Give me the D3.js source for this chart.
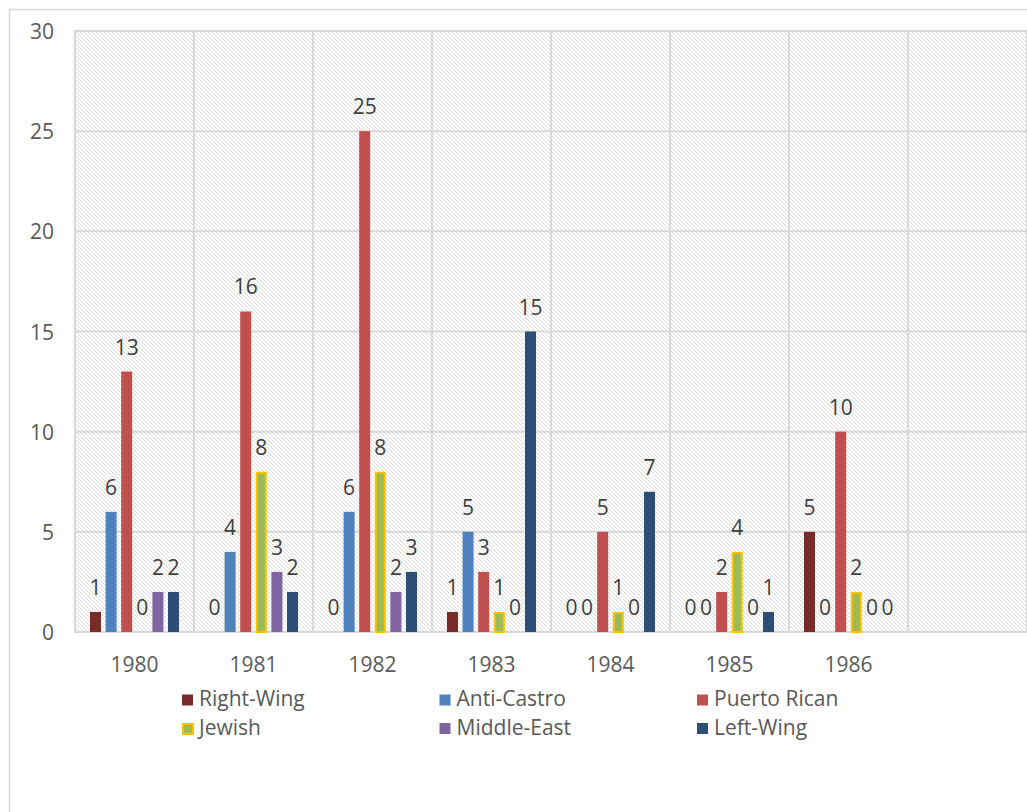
<!DOCTYPE html>
<html>
<head>
<meta charset="utf-8">
<script src="https://cdn.jsdelivr.net/npm/d3@7"></script>
<style>
  html, body { margin: 0; padding: 0; background: #fff; }
  svg { display: block; }
  text { font-family: "Open Sans", sans-serif; }
</style>
</head>
<body>
<svg id="chart" width="1027" height="812"></svg>
<script>
// ---- data ----
const years = ["1980", "1981", "1982", "1983", "1984", "1985", "1986", ""];
const seriesNames = ["Right-Wing", "Anti-Castro", "Puerto Rican", "Jewish", "Middle-East", "Left-Wing"];
const rightWing   = [1, 0, 0, 1, 0, 0, 5];
const antiCastro  = [6, 4, 6, 5, 0, 0, 0];
const puertoRican = [13, 16, 25, 3, 5, 2, 10];
const jewish      = [0, 8, 8, 1, 1, 4, 2];
const middleEast  = [2, 3, 2, 0, 0, 0, 0];
const leftWing    = [2, 2, 3, 15, 7, 1, 0];
const yTicks = [0, 5, 10, 15, 20, 25, 30];

(function () {
const seriesValues = [rightWing, antiCastro, puertoRican, jewish, middleEast, leftWing];
const fills   = ["#772C2A", "#4F81BD", "#C0504D", "#9BBB59", "#8064A2", "#2C4D75"];
const strokes = [null, null, null, "#FFC000", null, null];

const svg = d3.select("#chart");

// pattern
const defs = svg.append("defs");
const pat = defs.append("pattern").attr("id", "hatch")
  .attr("patternUnits", "userSpaceOnUse").attr("width", 4).attr("height", 4);
pat.append("rect").attr("width", 4).attr("height", 4).attr("fill", "#ffffff");
[0, 1, 2, 3].forEach(i => pat.append("rect").attr("x", i).attr("y", i)
  .attr("width", 1).attr("height", 1).attr("fill", "#DCDCDC"));

// chart frame
svg.append("rect").attr("x", 9.5).attr("y", 9.5).attr("width", 1100).attr("height", 900)
  .attr("fill", "#fff").attr("stroke", "#D9D9D9").attr("stroke-width", 1.5);

const pLeft = 75, pRight = 1027, pTop = 31, pBottom = 632;
const x0 = d3.scaleBand().domain(years.map((d, i) => i)).range([pLeft, pRight]).padding(0);
const x1 = d3.scaleBand().domain(seriesNames).range([0, x0.bandwidth()])
  .paddingInner(0.295).paddingOuter(0.96);
const y = d3.scaleLinear().domain([0, 30]).range([pBottom, pTop]);

// plot background
svg.append("rect").attr("x", pLeft).attr("y", pTop).attr("width", pRight - pLeft)
  .attr("height", pBottom - pTop).attr("fill", "url(#hatch)");

// gridlines
const grid = svg.append("g").attr("stroke", "#D9D9D9").attr("stroke-width", 2);
yTicks.forEach(t => grid.append("line")
  .attr("x1", pLeft - 1).attr("x2", pRight).attr("y1", y(t)).attr("y2", y(t)));
d3.range(years.length + 1).forEach(i => {
  const xx = i < years.length ? x0(i) : pRight;
  grid.append("line").attr("x1", xx).attr("x2", xx).attr("y1", pTop).attr("y2", pBottom);
});

// y axis labels
const yAxis = d3.axisLeft(y).tickValues(yTicks).tickSize(0).tickPadding(0);
const yg = svg.append("g").attr("transform", `translate(${pLeft - 21},0)`).call(yAxis);
yg.select(".domain").remove();
yg.selectAll("text").attr("font-size", 21).attr("fill", "#595959")
  .attr("font-family", "'Open Sans', sans-serif").attr("dy", "0.36em");

// x axis labels
const xAxis = d3.axisBottom(x0).tickFormat(i => years[i]).tickSize(0).tickPadding(0);
const xg = svg.append("g").attr("transform", `translate(0,${pBottom})`).call(xAxis);
xg.select(".domain").remove();
xg.selectAll("text").attr("font-size", 21).attr("fill", "#595959")
  .attr("font-family", "'Open Sans', sans-serif").attr("y", 40).attr("dy", 0);

// bars
const groups = svg.append("g");
seriesNames.forEach((name, si) => {
  const vals = seriesValues[si];
  const g = groups.append("g");
  g.selectAll("rect").data(vals).enter().append("rect")
    .attr("x", (v, i) => x0(i) + x1(name) + (strokes[si] ? 1 : 0))
    .attr("width", x1.bandwidth() - (strokes[si] ? 2 : 0))
    .attr("y", v => y(v) + (strokes[si] && v > 0 ? 1 : 0))
    .attr("height", v => Math.max(0, pBottom - y(v) - (strokes[si] ? 1 : 0)))
    .attr("fill", fills[si])
    .attr("stroke", v => strokes[si] && v > 0 ? strokes[si] : "none")
    .attr("stroke-width", 2);
  g.selectAll("text").data(vals).enter().append("text")
    .attr("x", (v, i) => x0(i) + x1(name) + x1.bandwidth() / 2)
    .attr("y", v => y(v) - 17)
    .attr("text-anchor", "middle")
    .attr("font-size", 21)
    .attr("fill", "#404040")
    .text(v => v);
});

// legend
const legendCols = [182, 439.5, 697];
const legendRows = [694.5, 723];
const lg = svg.append("g");
seriesNames.forEach((name, si) => {
  const cx = legendCols[si % 3], ry = legendRows[Math.floor(si / 3)];
  lg.append("rect")
    .attr("x", cx + (strokes[si] ? 1 : 0)).attr("y", ry + (strokes[si] ? 1 : 0))
    .attr("width", strokes[si] ? 10 : 11).attr("height", strokes[si] ? 10 : 11)
    .attr("fill", fills[si])
    .attr("stroke", strokes[si] || "none").attr("stroke-width", 2);
  lg.append("text").attr("x", cx + 17).attr("y", ry + 11.5)
    .attr("font-size", 21).attr("fill", "#595959").text(name);
});
})();
</script>
</body>
</html>
